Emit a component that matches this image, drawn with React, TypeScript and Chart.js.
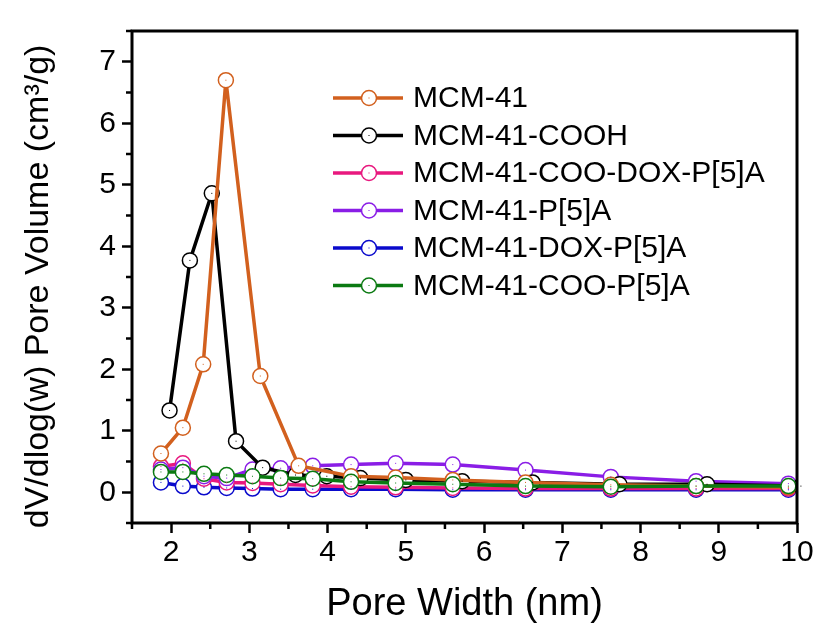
import React, { useEffect, useRef } from 'react';
import { Chart, registerables } from 'chart.js';
Chart.register(...registerables);

const seriesNames = [
  'MCM-41',
  'MCM-41-COOH',
  'MCM-41-COO-DOX-P[5]A',
  'MCM-41-P[5]A',
  'MCM-41-DOX-P[5]A',
  'MCM-41-COO-P[5]A',
];
const seriesColors = ['#D2601E', '#000000', '#E8187E', '#8A1DE6', '#0A0ACC', '#0B7A12'];

const xMCM41 = [1.87, 2.15, 2.41, 2.7, 3.14, 3.63, 4.3, 4.87, 5.6, 6.53, 7.62, 8.71, 9.89];
const yMCM41 = [0.63, 1.05, 2.08, 6.7, 1.89, 0.43, 0.26, 0.24, 0.2, 0.16, 0.12, 0.1, 0.08];

const xCOOH = [1.98, 2.24, 2.52, 2.83, 3.17, 3.59, 3.99, 4.42, 5.0, 5.72, 6.62, 7.73, 8.85, 10.05];
const yCOOH = [1.33, 3.77, 4.86, 0.83, 0.4, 0.28, 0.26, 0.23, 0.2, 0.18, 0.16, 0.13, 0.13, 0.1];

const xShared = [1.87, 2.15, 2.42, 2.71, 3.04, 3.4, 3.81, 4.3, 4.87, 5.6, 6.53, 7.62, 8.71, 9.89];
const yCOODOXP5A = [0.42, 0.47, 0.22, 0.16, 0.15, 0.13, 0.11, 0.09, 0.08, 0.07, 0.06, 0.06, 0.06, 0.06];
const yP5A = [0.37, 0.4, 0.26, 0.23, 0.37, 0.39, 0.43, 0.45, 0.47, 0.45, 0.36, 0.25, 0.18, 0.14];
const yDOXP5A = [0.16, 0.1, 0.08, 0.07, 0.06, 0.05, 0.05, 0.05, 0.05, 0.04, 0.04, 0.04, 0.04, 0.04];
const yCOOP5A = [0.33, 0.33, 0.3, 0.28, 0.26, 0.23, 0.22, 0.17, 0.15, 0.13, 0.1, 0.09, 0.1, 0.1];

const xTickLabels = ['2', '3', '4', '5', '6', '7', '8', '9', '10'];
const yTickLabels = ['0', '1', '2', '3', '4', '5', '6', '7'];

const FONT = "'Liberation Sans', Arial, sans-serif";

const pairs = (xs: number[], ys: number[]) => xs.map((x, i) => ({ x, y: ys[i] }));

const seriesData = [
  pairs(xMCM41, yMCM41),
  pairs(xCOOH, yCOOH),
  pairs(xShared, yCOODOXP5A),
  pairs(xShared, yP5A),
  pairs(xShared, yDOXP5A),
  pairs(xShared, yCOOP5A),
];
const drawOrder = [1, 2, 4, 3, 5, 0];

const framePlugin = {
  id: 'frameAndMinor',
  afterDraw(chart: any) {
    const { ctx, chartArea, scales } = chart;
    ctx.save();
    // minor ticks
    ctx.strokeStyle = '#000';
    ctx.lineWidth = 2.5;
    for (let v = 1.5; v <= 10.001; v += 1) {
      const px = scales.x.getPixelForValue(v);
      ctx.beginPath();
      ctx.moveTo(px, chartArea.bottom);
      ctx.lineTo(px, chartArea.bottom + 6);
      ctx.stroke();
    }
    for (let v = -0.5; v <= 7.501; v += 1) {
      const py = scales.y.getPixelForValue(v);
      ctx.beginPath();
      ctx.moveTo(chartArea.left, py);
      ctx.lineTo(chartArea.left - 6, py);
      ctx.stroke();
    }
    ctx.lineWidth = 3;
    ctx.strokeRect(chartArea.left, chartArea.top, chartArea.right - chartArea.left, chartArea.bottom - chartArea.top);

    // legend
    const lx = chartArea.left + 201;
    const ly = chartArea.top + 67;
    const dy = 37.5;
    seriesNames.forEach((name, i) => {
      const y = ly + i * dy;
      ctx.strokeStyle = seriesColors[i];
      ctx.lineWidth = 3.5;
      ctx.beginPath();
      ctx.moveTo(lx, y);
      ctx.lineTo(lx + 70, y);
      ctx.stroke();
      ctx.beginPath();
      ctx.arc(lx + 36, y, 7.5, 0, Math.PI * 2);
      ctx.fillStyle = '#fff';
      ctx.fill();
      ctx.lineWidth = 1.5;
      ctx.stroke();
      ctx.fillStyle = seriesColors[i];
      ctx.fillRect(lx + 35.5, y - 0.5, 1, 1);
      ctx.fillStyle = '#000';
      ctx.font = `30px ${FONT}`;
      ctx.textBaseline = 'middle';
      ctx.textAlign = 'left';
      ctx.fillText(name, lx + 80, y + 1);
    });
    ctx.restore();
  },
  afterDatasetsDraw(chart: any) {
    const { ctx } = chart;
    ctx.save();
    chart.data.datasets.forEach((ds: any, i: number) => {
      const meta = chart.getDatasetMeta(i);
      ctx.fillStyle = ds.borderColor;
      meta.data.forEach((pt: any) => {
        ctx.fillRect(pt.x - 0.5, pt.y - 0.5, 1, 1);
      });
    });
    ctx.restore();
  },
};

export default function App() {
  const ref = useRef<HTMLCanvasElement>(null);
  useEffect(() => {
    if (!ref.current) return;
    const chart = new Chart(ref.current, {
      type: 'line',
      data: {
        datasets: seriesNames.map((name, i) => ({
          label: name,
          data: seriesData[i],
          borderColor: seriesColors[i],
          backgroundColor: '#ffffff',
          pointBackgroundColor: '#ffffff',
          pointBorderColor: seriesColors[i],
          pointBorderWidth: 1.5,
          pointRadius: 7.5,
          borderWidth: 3.5,
          tension: 0,
          fill: false,
          order: drawOrder[i],
        })),
      },
      plugins: [framePlugin],
      options: {
        animation: false,
        responsive: false,
        maintainAspectRatio: false,
        layout: { padding: { top: 31, right: 21, left: 0, bottom: 0 } },
        plugins: { legend: { display: false }, tooltip: { enabled: false } },
        scales: {
          x: {
            type: 'linear',
            min: 1.5,
            max: 10,
            afterFit: (s: any) => { s.height = 103; },
            ticks: {
              stepSize: 0.5,
              autoSkip: false,
              maxRotation: 0,
              padding: 2,
              color: '#000',
              font: { family: FONT, size: 30 },
              callback: (v: any) => {
                const n = Number(v);
                return Number.isInteger(n) ? xTickLabels[n - 2] ?? '' : '';
              },
            },
            grid: {
              display: true,
              drawOnChartArea: false,
              drawTicks: true,
              tickLength: 10,
              tickWidth: 2.5,
              tickColor: (c: any) => (c.tick && Number.isInteger(c.tick.value) ? '#000' : 'rgba(0,0,0,0)'),
            },
            border: { display: false },
            title: {
              display: true,
              text: 'Pore Width (nm)',
              color: '#000',
              font: { family: FONT, size: 38, lineHeight: 1 },
              padding: { top: 0, bottom: 2 },
            },
          },
          y: {
            type: 'linear',
            min: -0.5,
            max: 7.5,
            afterFit: (s: any) => { s.width = 132; },
            ticks: {
              stepSize: 0.5,
              autoSkip: false,
              padding: 6,
              color: '#000',
              font: { family: FONT, size: 30 },
              callback: (v: any) => {
                const n = Number(v);
                return Number.isInteger(n) ? yTickLabels[n] ?? '' : '';
              },
            },
            grid: {
              display: true,
              drawOnChartArea: false,
              drawTicks: true,
              tickLength: 10,
              tickWidth: 2.5,
              tickColor: (c: any) => (c.tick && Number.isInteger(c.tick.value) ? '#000' : 'rgba(0,0,0,0)'),
            },
            border: { display: false },
            title: {
              display: true,
              text: 'dV/dlog(w) Pore Volume (cm³/g)  ',
              color: '#000',
              font: { family: FONT, size: 34, lineHeight: 1 },
              padding: { top: 22, bottom: 0 },
            },
          },
        },
      },
    });
    return () => chart.destroy();
  }, []);
  return (
    <div style={{ position: 'fixed', left: 0, top: 0, width: 818, height: 626, background: '#fff' }}>
      <canvas ref={ref} width={818} height={626} style={{ width: 818, height: 626 }} />
    </div>
  );
}
